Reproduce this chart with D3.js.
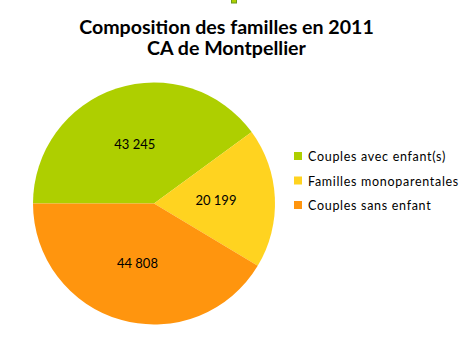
<!DOCTYPE html>
<html><head><meta charset="utf-8">
<script src="https://cdn.jsdelivr.net/npm/d3@7"></script>
<style>body{margin:0;background:#fff}svg{display:block}</style>
</head><body>
<svg id="c" width="464" height="359"></svg>
<script>
const categories = ["Couples avec enfant(s)", "Familles monoparentales", "Couples sans enfant"];
const values = [43245, 20199, 44808];
const valueLabels = ["43 245", "20 199", "44 808"];
const colors = ["#aecf00", "#ffd320", "#ff950e"];
const titleLines = ["Composition des familles en 2011", "CA de Montpellier"];

const svg = d3.select("#c");
// small artifact at top
svg.append("rect").attr("x", 231.5).attr("y", -2).attr("width", 5).attr("height", 5)
  .attr("fill", colors[0]).attr("stroke", "#6a9a1c").attr("stroke-width", 1);

svg.append("g").selectAll("text").data(titleLines).join("text")
  .attr("x", 226.5).attr("y", (d, i) => 34 + i * 21)
  .attr("text-anchor", "middle")
  .attr("font-family", "Lato, Carlito, sans-serif").attr("font-weight", "bold")
  .attr("font-size", 19.6).attr("fill", "#000").text(d => d);

const cx = 154, cy = 203.5, R = 121;
const pie = d3.pie().sort(null).startAngle(-Math.PI / 2).endAngle(1.5 * Math.PI);
const arcs = pie(values);
const arc = d3.arc().innerRadius(0).outerRadius(R);
const labelArc = d3.arc().innerRadius(62).outerRadius(62);
const g = svg.append("g").attr("transform", `translate(${cx},${cy})`);
g.selectAll("path").data(arcs).join("path")
  .attr("d", arc).attr("fill", (d, i) => colors[i]);
g.selectAll("text").data(arcs).join("text")
  .attr("transform", d => `translate(${labelArc.centroid(d)})`)
  .attr("text-anchor", "middle").attr("dy", "0.35em")
  .attr("font-family", "Lato, Carlito, sans-serif").attr("font-size", 13)
  .attr("fill", "#000").text((d, i) => valueLabels[i]);

const leg = svg.append("g").selectAll("g").data(categories).join("g")
  .attr("transform", (d, i) => `translate(294,${152 + i * 24.5})`);
leg.append("rect").attr("width", 8).attr("height", 8).attr("fill", (d, i) => colors[i]);
leg.append("text").attr("x", 14).attr("y", 9)
  .attr("font-family", "Lato, Carlito, sans-serif").attr("font-size", 12.5)
  .attr("letter-spacing", 0.7)
  .attr("fill", "#000").text(d => d);
</script>
</body></html>
